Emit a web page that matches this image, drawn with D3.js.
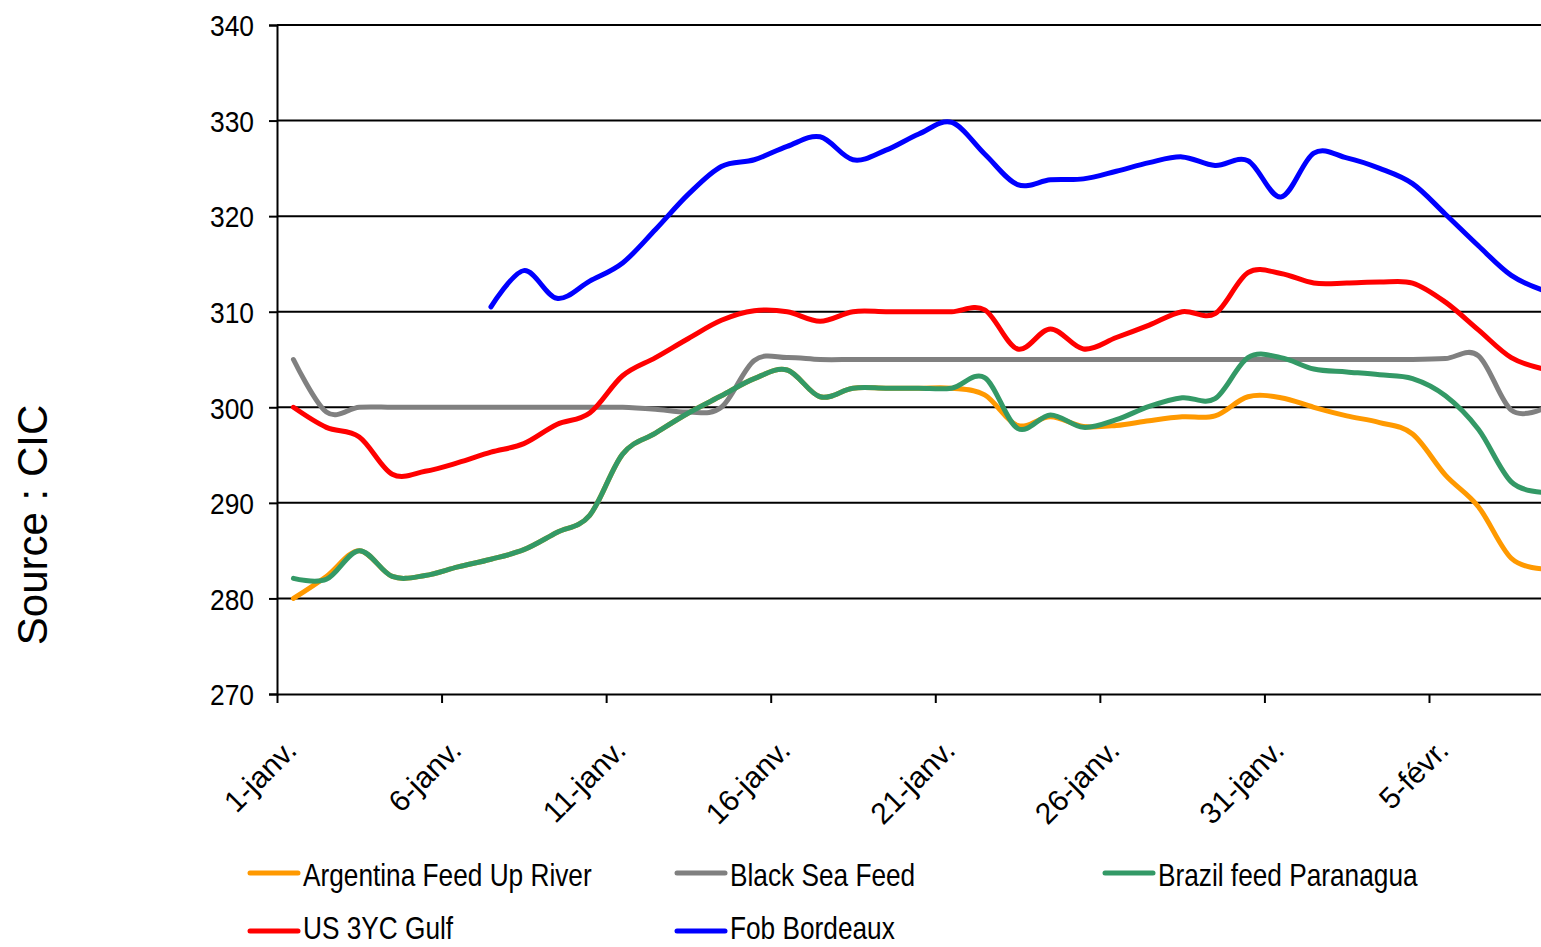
<!DOCTYPE html>
<html><head><meta charset="utf-8">
<script src="https://cdn.jsdelivr.net/npm/d3@7"></script>
<style>
html,body{margin:0;padding:0;background:#fff;overflow:hidden}
svg{display:block}
</style>
</head><body>
<svg id="chart" width="1541" height="947"></svg>
<script>
// ---- data ----
const startDate = "2009-01-01"; // day 0 = 1-janv.
const dayCount = 39;            // 1-janv. .. 8-févr.
const tickLabels = ["1-janv.","6-janv.","11-janv.","16-janv.","21-janv.","26-janv.","31-janv.","5-févr."];
const yTicks = [270,280,290,300,310,320,330,340];
const seriesNames = ["Argentina Feed Up River","Black Sea Feed","Brazil feed Paranagua","US 3YC Gulf","Fob Bordeaux"];
const seriesColors = ["#FF9900","#808080","#339966","#FF0000","#0000FF"];

const argentina = [280.0,282.3,285.0,282.3,282.4,283.3,284.1,285.1,286.9,288.7,
  295.1,297.3,299.4,301.2,303.0,303.9,301.1,302.0,302.0,302.0,
  302.0,301.3,298.1,299.0,298.0,298.1,298.6,299.0,299.1,301.1,
  301.0,300.0,299.1,298.4,297.2,292.9,289.6,284.2,283.1];
const blackSea = [305.0,299.5,300.0,300.0,300.0,300.0,300.0,300.0,300.0,300.0,
  300.0,299.8,299.5,300.0,304.9,305.2,305.0,305.0,305.0,305.0,
  305.0,305.0,305.0,305.0,305.0,305.0,305.0,305.0,305.0,305.0,
  305.0,305.0,305.0,305.0,305.0,305.1,305.4,299.7,299.9];
const brazil = [282.1,282.0,285.0,282.3,282.4,283.3,284.1,285.1,286.9,288.7,
  295.1,297.3,299.4,301.2,303.0,303.9,301.1,302.0,302.0,302.0,
  302.0,303.1,297.8,299.2,297.9,298.7,300.1,301.0,300.9,305.2,
  305.2,304.0,303.7,303.4,303.0,301.2,297.7,292.2,291.1];
const usGulf = [300.0,297.9,296.9,293.0,293.3,294.2,295.3,296.2,298.2,299.4,
  303.3,305.2,307.2,309.1,310.1,310.0,309.0,310.0,310.0,310.0,
  310.0,310.2,306.1,308.2,306.1,307.3,308.6,310.0,309.8,314.1,
  314.0,313.0,313.0,313.1,313.0,311.0,308.1,305.2,304.0];
const fobBordeaux = [null,null,null,null,null,null,310.5,314.3,311.4,313.2,
  315.1,318.6,322.3,325.2,325.9,327.3,328.3,325.9,326.9,328.6,
  329.8,326.5,323.3,323.8,323.9,324.7,325.6,326.2,325.3,325.8,
  322.0,326.6,326.1,325.0,323.4,320.2,316.9,313.8,312.2];
const seriesValues = [argentina, blackSea, brazil, usGulf, fobBordeaux];

// ---- layout ----
const svg = d3.select("#chart");
const plotLeft = 277, plotTop = 25, plotBottom = 694, dayWidth = 32.914;
const font = "'Liberation Sans',Arial,sans-serif";
const narrow = 0.82; // condensed (Arial Narrow-like) horizontal scale

const parse = d3.utcParse("%Y-%m-%d");
const d0 = parse(startDate);
const dates = d3.range(dayCount).map(i => d3.utcDay.offset(d0, i));
const x = d3.scaleUtc()
  .domain([d0, d3.utcDay.offset(d0, 40)])
  .range([plotLeft, plotLeft + dayWidth * 40]);
const xc = d => x(d) + dayWidth / 2; // points centred in each day
const y = d3.scaleLinear().domain([270, 340]).range([plotBottom, plotTop]);

// gridlines
svg.append("g").selectAll("line").data(yTicks.filter(v => v > 270)).join("line")
  .attr("x1", plotLeft).attr("x2", 1541)
  .attr("y1", d => y(d)).attr("y2", d => y(d))
  .attr("stroke", "#000").attr("stroke-width", 2);

// y axis
const yAxis = svg.append("g").attr("transform", `translate(${plotLeft},0)`)
  .call(d3.axisLeft(y).tickValues(yTicks).tickSize(8).tickPadding(0).tickFormat(d3.format("d")));
yAxis.select(".domain").attr("stroke", "#000").attr("stroke-width", 2);
yAxis.selectAll(".tick line").attr("stroke", "#000").attr("stroke-width", 2);
yAxis.selectAll(".tick text").attr("font-family", font).attr("font-size", 30)
  .attr("fill", "#000").attr("x", 0).attr("dy", "0.36em")
  .attr("transform", `translate(-23,0) scale(0.88,1)`);

// x axis
const tickDates = tickLabels.map((_, i) => d3.utcDay.offset(d0, i * 5));
const xAxis = svg.append("g").attr("transform", `translate(0,${plotBottom})`)
  .call(d3.axisBottom(x).tickValues(tickDates).tickSize(9).tickSizeOuter(0)
    .tickFormat((d, i) => tickLabels[i]));
xAxis.select(".domain").attr("stroke", "#000").attr("stroke-width", 2);
xAxis.selectAll(".tick line").attr("stroke", "#000").attr("stroke-width", 2);
xAxis.selectAll(".tick text")
  .attr("font-family", font).attr("font-size", 30).attr("fill", "#000")
  .attr("text-anchor", "end").attr("y", 0).attr("dy", 0)
  .attr("transform", "translate(21,58) rotate(-45)");

// lines
const line = d3.line()
  .defined(d => d.v != null)
  .x(d => xc(d.date))
  .y(d => y(d.v))
  .curve(d3.curveCardinal.tension(0));
svg.append("clipPath").attr("id", "clip").append("rect")
  .attr("x", plotLeft).attr("y", 0).attr("width", 1541 - plotLeft).attr("height", 947);
const gLines = svg.append("g").attr("clip-path", "url(#clip)");
seriesValues.forEach((vals, k) => {
  const pts = vals.map((v, i) => ({date: dates[i], v}));
  gLines.append("path").datum(pts)
    .attr("d", line)
    .attr("fill", "none")
    .attr("stroke", seriesColors[k])
    .attr("stroke-width", 5)
    .attr("stroke-linejoin", "round")
    .attr("stroke-linecap", "round");
});

// y title
svg.append("text")
  .attr("transform", "translate(47,525) rotate(-90)")
  .attr("text-anchor", "middle")
  .attr("font-family", font).attr("font-size", 42).attr("fill", "#000")
  .text("Source : CIC");

// legend
const legendPos = [[250,873,886],[677,873,886],[1105,873,886],[250,931,939],[677,931,939]];
const lg = svg.append("g");
seriesNames.forEach((name, k) => {
  const [lx, ly, ty] = legendPos[k];
  lg.append("line").attr("x1", lx).attr("x2", lx + 48).attr("y1", ly).attr("y2", ly)
    .attr("stroke", seriesColors[k]).attr("stroke-width", 5).attr("stroke-linecap", "round");
  lg.append("text")
    .attr("transform", `translate(${lx + 53},${ty}) scale(${narrow},1)`)
    .attr("font-family", font).attr("font-size", 32).attr("fill", "#000")
    .text(name);
});
</script>
</body></html>
